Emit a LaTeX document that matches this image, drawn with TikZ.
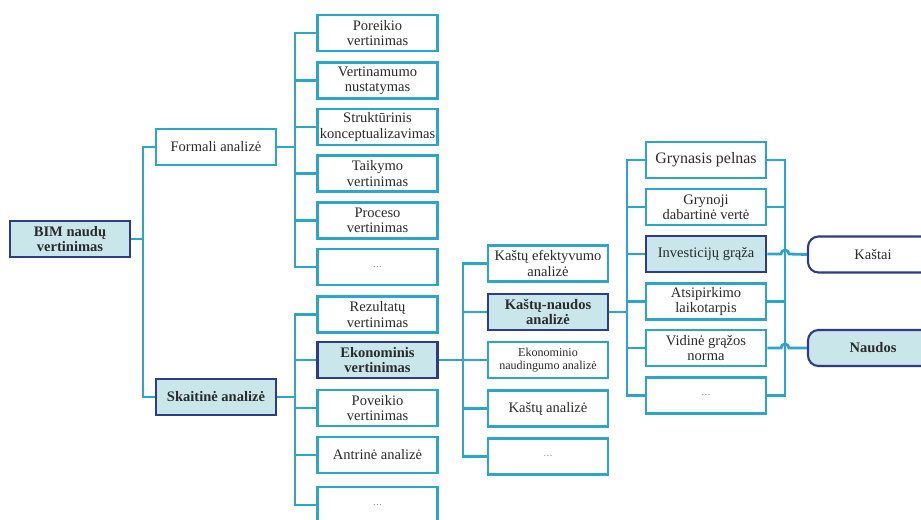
\documentclass[tikz,border=0pt]{standalone}
\usepackage{fontspec}
\setmainfont{Liberation Serif}
\usepackage{tikz}
\usetikzlibrary{calc}
\definecolor{lnk}{HTML}{2CA6C8}
\definecolor{navy}{HTML}{2E3B8A}
\definecolor{hl}{HTML}{C9E7EA}
\definecolor{ink}{HTML}{2A2A2A}

\tikzset{
  box/.style={draw=lnk,line width=2.5pt,fill=white,text=ink,minimum width=3.6cm,minimum height=1.08cm,
    align=center,inner sep=1pt,font=\fontsize{12.4}{13}\selectfont},
  keybox/.style={box,draw=navy,fill=hl,font=\fontsize{12.4}{13}\selectfont\bfseries},
  endbox/.style={draw=navy,line width=1.8pt,rounded corners=9pt,fill=white,text=ink,minimum width=3.9cm,
    minimum height=1.08cm,align=center,font=\fontsize{12.4}{13}\selectfont},
  wire/.style={lnk,line width=2.4pt},
  dots/.style={font=\footnotesize,text=black!55}
}

\begin{document}
\begin{tikzpicture}[x=0.03cm,y=-0.03cm]
  \path[use as bounding box,clip] (0,0) rectangle (921,519);
  \node[keybox] (bim) at (70,239) {BIM naudų\\vertinimas};
  \node[box] (formali) at (216,147) {Formali analizė};
  \node[keybox] (skait) at (216,397) {Skaitinė analizė};
  \foreach \i/\y/\t in {1/33/{Poreikio\\vertinimas},2/80.5/{Vertinamumo\\nustatymas},
      3/127/{Struktūrinis\\konceptualizavimas},4/173.5/{Taikymo\\vertinimas},5/220.5/{Proceso\\vertinimas}}
    \node[box] (f\i) at (377.5,\y) {\t};
  \node[box] (f6) at (377.5,267) {\textcolor{black!55}{\footnotesize\ldots}};
  \node[box] (s1) at (377.5,314.5) {Rezultatų\\vertinimas};
  \node[keybox] (s2) at (377.5,360) {Ekonominis\\vertinimas};
  \node[box] (s3) at (377.5,408) {Poveikio\\vertinimas};
  \node[box] (s4) at (377.5,455) {Antrinė analizė};
  \node[box] (s5) at (377.5,505) {\textcolor{black!55}{\footnotesize\ldots}};
  \node[box] (c1) at (548,263.5) {Kaštų efektyvumo\\analizė};
  \node[keybox] (c2) at (548,312) {Kaštų-naudos\\analizė};
  \node[box,font=\fontsize{10.3}{11.5}\selectfont] (c3) at (548,360) {Ekonominio\\naudingumo analizė};
  \node[box] (c4) at (548,408.5) {Kaštų analizė};
  \node[box] (c5) at (548,456.5) {\textcolor{black!55}{\footnotesize\ldots}};
  \node[box,font=\fontsize{13.6}{14}\selectfont] (g1) at (706,160) {Grynasis pelnas};
  \node[box] (g2) at (706,207) {Grynoji\\dabartinė vertė};
  \node[box,draw=navy,fill=hl] (g3) at (706,254) {Investicijų grąža};
  \node[box] (g4) at (706,301.5) {Atsipirkimo\\laikotarpis};
  \node[box] (g5) at (706,348) {Vidinė grąžos\\norma};
  \node[box] (g6) at (706,395.5) {\textcolor{black!55}{\footnotesize\ldots}};
  \node[endbox] (kastai) at (873,254.5) {Kaštai};
  \node[endbox,fill=hl,font=\fontsize{12.4}{13}\selectfont\bfseries] (naudos) at (873,348) {Naudos};

  \coordinate (b1) at (143,239);
  \coordinate (b2) at (295,147);
  \coordinate (b3) at (295,397);
  \coordinate (b4) at (463,360);
  \coordinate (b5) at (627,312);
  \coordinate (b6) at (785,254);
  \draw[wire] (formali.west) -| (b1) |- (skait.west);
  \draw[wire] (bim.east) -- (b1);
  \draw[wire] (f1.west) -| (b2) |- (f6.west);
  \foreach \i in {2,...,5} \draw[wire] (f\i.west) -- (f\i.west -| b2);
  \draw[wire] (formali.east) -- (b2);
  \draw[wire] (s1.west) -| (b3) |- (s5.west);
  \foreach \i in {2,...,4} \draw[wire] (s\i.west) -- (s\i.west -| b3);
  \draw[wire] (skait.east) -- (b3);
  \draw[wire] (c1.west) -| (b4) |- (c5.west);
  \foreach \i in {2,...,4} \draw[wire] (c\i.west) -- (c\i.west -| b4);
  \draw[wire] (s2.east) -- (b4);
  \draw[wire] (g1.west) -| (b5) |- (g6.west);
  \foreach \i in {2,...,5} \draw[wire] (g\i.west) -- (g\i.west -| b5);
  \draw[wire] (c2.east) -- (b5);
  \draw[wire] (g1.east) -| (b6) |- (g6.east);
  \foreach \i in {2,4} \draw[wire] (g\i.east) -- (g\i.east -| b6);
  \draw[wire] (g3.east) -- ($(g3.east -| b6)+(-4,0)$) arc[start angle=180,end angle=0,radius=3.4pt] -- (kastai.west);
  \draw[wire] (g5.east) -- ($(g5.east -| b6)+(-4,0)$) arc[start angle=180,end angle=0,radius=3.4pt] -- (naudos.west);
\end{tikzpicture}
\end{document}
